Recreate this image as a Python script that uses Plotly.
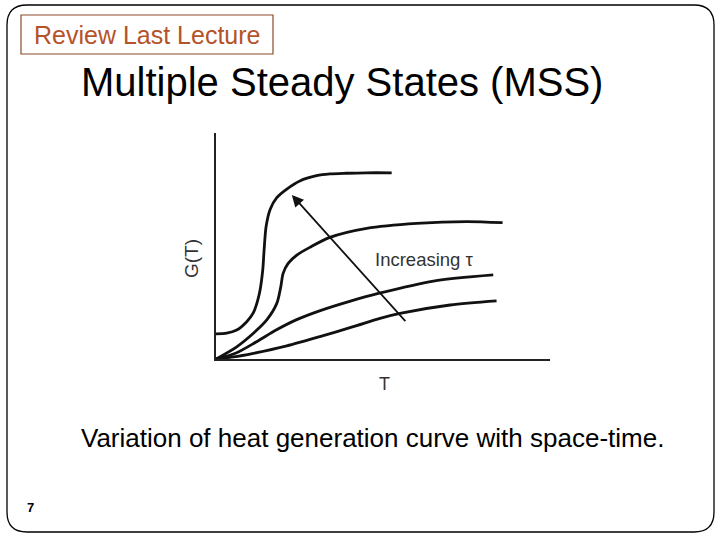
import plotly.graph_objects as go

W, H = 720, 540

# Curves of heat generation G(T) (T and G in 0..100 axis units)
T1 = [0, 3.2, 6.2, 9.2, 11.2, 12.4, 13.2, 14.0, 14.4, 15.0, 16.2, 18.2, 21.2, 25.1, 30.1, 34.1, 39.1, 45.0, 52.6]
G1 = [11.1, 11.4, 12.8, 16.5, 20.5, 25.5, 30.5, 39.4, 48.2, 58.6, 66.2, 71.4, 75.2, 78.8, 81.1, 81.9, 82.2, 82.4, 82.4]

T2 = [0, 6.2, 11.2, 15.2, 18.2, 19.4, 20.1, 21.6, 24.2, 28.1, 34.1, 45.1, 60.1, 75.1, 85.8]
G2 = [0, 5.4, 11.4, 17.3, 24.6, 32.0, 37.9, 42.3, 46.0, 49.4, 53.8, 57.8, 60.0, 60.8, 60.3]

T3 = [0, 6.2, 12.0, 18.0, 24.0, 31.0, 40.0, 48.6, 65.1, 83.0]
G3 = [0, 2.8, 7.5, 12.8, 17.3, 21.3, 25.5, 29.0, 34.5, 37.2]

T4 = [0, 5.2, 11.2, 21.2, 31.1, 41.1, 49.1, 55.1, 70.1, 84.0]
G4 = [0, 0.9, 2.5, 5.8, 9.9, 14.3, 18.0, 20.2, 23.9, 25.7]

arrow_tail = [57.1, 16.1]
arrow_head = [22.7, 72.6]

title_text = "Multiple Steady States (MSS)"
caption_text = "Variation of heat generation curve with space-time."
review_text = "Review Last Lecture"
page_no = "7"

# plot-area placement (pixels)
PX0, PX1, PY0, PY1 = 216, 550, 133, 359

def px(x):
    return x / W

def py(y):
    return 1 - y / H

fig = go.Figure()
for T, G in [(T1, G1), (T2, G2), (T3, G3), (T4, G4)]:
    fig.add_trace(go.Scatter(x=T, y=G, mode="lines",
                             line=dict(color="#111111", width=2.8, shape="spline", smoothing=0.8),
                             hoverinfo="skip", showlegend=False))

fig.add_annotation(x=arrow_head[0], y=arrow_head[1], ax=arrow_tail[0], ay=arrow_tail[1],
                   xref="x", yref="y", axref="x", ayref="y", text="",
                   showarrow=True, arrowhead=2, arrowsize=1.3, arrowwidth=1.8,
                   arrowcolor="#111111", standoff=0)

def label(x, y, text, size, color, anchor="center", angle=0):
    fig.add_annotation(x=px(x), y=py(y), xref="paper", yref="paper", text=text,
                       xanchor=anchor, yanchor="middle", textangle=angle, showarrow=False,
                       font=dict(family="Liberation Sans", size=size, color=color))

label(424, 260, "Increasing τ", 18.5, "#333333")
label(191, 259, "G(T)", 19, "#333333", angle=-90)
label(384, 384, "T", 18, "#333333")
label(79, 82, title_text, 40, "black", anchor="left")
label(79, 438, caption_text, 26, "black", anchor="left")
label(147, 35, review_text, 25, "#B4532A")
label(30, 507, "<b>" + page_no + "</b>", 13, "black")

# review box
fig.add_shape(type="rect", xref="paper", yref="paper",
              x0=px(21), x1=px(273), y0=py(15), y1=py(54),
              line=dict(color="#8B4A2B", width=1.2))

# slide border with rounded corners
L, R, Tp, B, r = 7, 714, 5, 532, 20
path = (f"M {px(L+r)},{py(Tp)} L {px(R-r)},{py(Tp)} Q {px(R)},{py(Tp)} {px(R)},{py(Tp+r)} "
        f"L {px(R)},{py(B-r)} Q {px(R)},{py(B)} {px(R-r)},{py(B)} "
        f"L {px(L+r)},{py(B)} Q {px(L)},{py(B)} {px(L)},{py(B-r)} "
        f"L {px(L)},{py(Tp+r)} Q {px(L)},{py(Tp)} {px(L+r)},{py(Tp)} Z")
fig.add_shape(type="path", xref="paper", yref="paper", path=path,
              line=dict(color="black", width=1.3))

axis_common = dict(showgrid=False, zeroline=False, showticklabels=False, ticks="",
                   showline=True, linecolor="#222222", linewidth=1.8, fixedrange=True)
fig.update_layout(
    width=W, height=H, margin=dict(l=0, r=0, t=0, b=0),
    paper_bgcolor="white", plot_bgcolor="white",
    xaxis=dict(domain=[PX0 / W, PX1 / W], range=[0, 100], **axis_common),
    yaxis=dict(domain=[py(PY1), py(PY0)], range=[0, 100], **axis_common),
    showlegend=False,
)

fig.write_html("out.html", config={"displayModeBar": False},
               post_script="document.body.style.margin='0';")
